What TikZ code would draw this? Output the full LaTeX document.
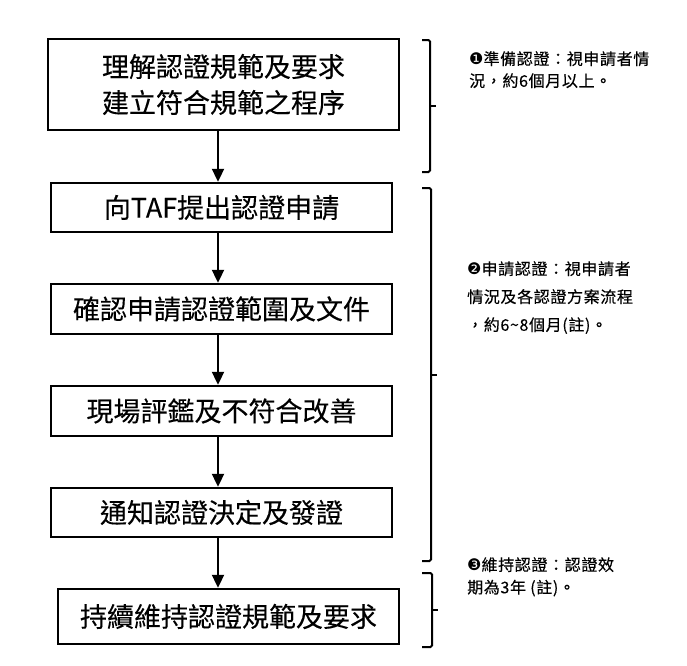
\documentclass[tikz,border=0pt]{standalone}
\usepackage{fontspec}
\setmainfont{Noto Sans CJK TC}
\newfontfamily\boxfont[FakeBold=0.2]{Noto Sans CJK TC}
\newfontfamily\sidefont[LetterSpace=4,FakeBold=0.3]{Noto Sans CJK TC}
\newfontfamily\numfont{DejaVu Sans}
\usetikzlibrary{arrows.meta}
\tikzset{
  stepbox/.style={draw=black, line width=2.4pt, fill=white, inner sep=0pt, align=center,
    font=\boxfont\fontsize{27}{36}\selectfont},
  arr/.style={line width=2pt, -{Triangle[length=13pt,width=12pt]}},
  brk/.style={line width=2pt, rounded corners=1.5pt},
  side/.style={anchor=north west, inner sep=0pt, align=left},
}
\newcommand{\circnum}[1]{{\numfont\fontsize{16}{16}\selectfont #1}}
\begin{document}
\begin{tikzpicture}[x=1pt,y=-1pt]
\useasboundingbox (0,0) rectangle (687,665);
\fill[white] (0,0) rectangle (687,665);
% boxes
\node[stepbox, minimum width=351pt, minimum height=91pt] (b1) at (223.5,84.5) {理解認證規範及要求\\建立符合規範之程序};
\node[stepbox, minimum width=341pt, minimum height=49pt] (b2) at (221.5,207.5) {向TAF提出認證申請};
\node[stepbox, minimum width=341pt, minimum height=50pt] (b3) at (221.5,309) {確認申請認證範圍及文件};
\node[stepbox, minimum width=341pt, minimum height=50pt] (b4) at (221.5,411) {現場評鑑及不符合改善};
\node[stepbox, minimum width=341pt, minimum height=49pt] (b5) at (221.5,512.5) {通知認證決定及發證};
\node[stepbox, minimum width=341pt, minimum height=55pt] (b6) at (228.5,616.5) {持續維持認證規範及要求};
% arrows
\coordinate (ax) at (218,0);
\draw[arr] (b1.south -| ax) -- (b2.north -| ax);
\draw[arr] (b2.south -| ax) -- (b3.north -| ax);
\draw[arr] (b3.south -| ax) -- (b4.north -| ax);
\draw[arr] (b4.south -| ax) -- (b5.north -| ax);
\draw[arr] (b5.south -| ax) -- (b6.north -| ax);
% brackets
\draw[brk] (422,40) -- (430,40) -- (430,172) -- (422,172);
\draw[line width=2pt] (430,106) -- (436,106);
\draw[brk] (422,188) -- (431,188) -- (431,561) -- (422,561);
\draw[line width=2pt] (431,375) -- (437,375);
\draw[brk] (422,573) -- (432,573) -- (432,647) -- (422,647);
\draw[line width=2pt] (432,610) -- (438,610);
% side texts
\node[side, font=\sidefont\fontsize{16}{22}\selectfont] (t1) at (469,51)
  {\circnum{❶}準備認證：視申請者情\\況，約6個月以上。};
\node[side, font=\sidefont\fontsize{16}{28}\selectfont] (t2) at (467,261)
  {\circnum{❷}申請認證：視申請者\\情況及各認證方案流程\\，約6\textasciitilde 8個月(註)。};
\node[side, font=\sidefont\fontsize{16}{22.5}\selectfont] (t3) at (467,557)
  {\circnum{❸}維持認證：認證效\\期為3年 (註)。};
\end{tikzpicture}
\end{document}
